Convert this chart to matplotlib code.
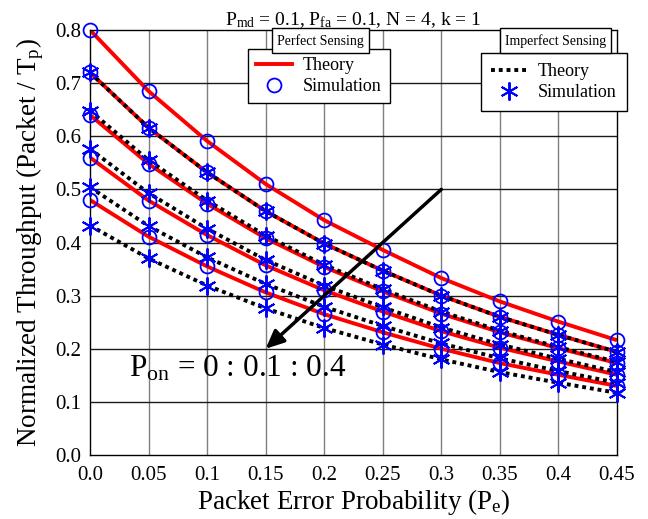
import numpy as np
import matplotlib
matplotlib.use("Agg")
import matplotlib.pyplot as plt
from matplotlib.lines import Line2D

plt.rcParams["font.family"] = ["Liberation Serif", "DejaVu Serif"]
plt.rcParams["mathtext.default"] = "regular"

# ── Data ──────────────────────────────────────────────────────
pe = [0.0, 0.05, 0.1, 0.15, 0.2, 0.25, 0.3, 0.35, 0.4, 0.45]
pe_labels = ["0.0", "0.05", "0.1", "0.15", "0.2", "0.25", "0.3", "0.35", "0.4", "0.45"]
y_ticks = [0.0, 0.1, 0.2, 0.3, 0.4, 0.5, 0.6, 0.7, 0.8]

# perfect sensing, P_on = 0, 0.1, 0.2, 0.3, 0.4
perfect_on0 = [0.800, 0.685, 0.591, 0.510, 0.442, 0.386, 0.333, 0.289, 0.251, 0.216]
perfect_on1 = [0.720, 0.616, 0.532, 0.459, 0.398, 0.347, 0.300, 0.260, 0.226, 0.194]
perfect_on2 = [0.640, 0.548, 0.473, 0.408, 0.354, 0.308, 0.266, 0.231, 0.201, 0.173]
perfect_on3 = [0.560, 0.479, 0.414, 0.357, 0.310, 0.270, 0.233, 0.202, 0.176, 0.151]
perfect_on4 = [0.480, 0.411, 0.355, 0.306, 0.265, 0.231, 0.200, 0.173, 0.151, 0.130]

# imperfect sensing, P_on = 0, 0.1, 0.2, 0.3, 0.4
imperfect_on0 = [0.720, 0.616, 0.532, 0.459, 0.398, 0.347, 0.300, 0.260, 0.226, 0.194]
imperfect_on1 = [0.648, 0.555, 0.479, 0.413, 0.358, 0.312, 0.270, 0.234, 0.203, 0.175]
imperfect_on2 = [0.576, 0.493, 0.426, 0.367, 0.319, 0.278, 0.240, 0.208, 0.181, 0.156]
imperfect_on3 = [0.504, 0.431, 0.372, 0.322, 0.279, 0.243, 0.210, 0.182, 0.158, 0.136]
imperfect_on4 = [0.432, 0.370, 0.319, 0.276, 0.239, 0.208, 0.180, 0.156, 0.136, 0.117]

perfect = [perfect_on0, perfect_on1, perfect_on2, perfect_on3, perfect_on4]
imperfect = [imperfect_on0, imperfect_on1, imperfect_on2, imperfect_on3, imperfect_on4]

RED = "#ff0000"
BLUE = "#0000ff"
DOTS = (0, (1, 1))
ASTERISK = (6, 2, 0)

fig = plt.figure(figsize=(6.48, 5.19), dpi=100)
ax = fig.add_axes([0.1389, 0.1233, 0.8133, 0.8189])

# grid: vertical grey, horizontal dark
for xv in pe[1:-1]:
    ax.axvline(xv, color="#7f7f7f", lw=1.0, zorder=0)
for yv in y_ticks[1:-1]:
    ax.axhline(yv, color="#1a1a1a", lw=1.0, zorder=0)

# theory curves
for ys in perfect:
    ax.plot(pe, ys, color=RED, lw=2.8, solid_capstyle="butt", zorder=2)
for ys in imperfect:
    ax.plot(pe, ys, color="black", lw=2.8, linestyle=DOTS, zorder=3)

# simulation markers
for ys in perfect:
    ax.plot(pe, ys, linestyle="none", marker="o", ms=10, mfc="none",
            mec=BLUE, mew=1.3, clip_on=False, zorder=4)
for ys in imperfect:
    ax.plot(pe, ys, linestyle="none", marker=ASTERISK, ms=13,
            mec=BLUE, mew=1.4, clip_on=False, zorder=4)

ax.set_xlim(0, 0.45)
ax.set_ylim(0, 0.8)
ax.set_xticks(pe)
ax.set_xticklabels(pe_labels)
ax.set_yticks(y_ticks)
ax.set_yticklabels([f"{v:.1f}" for v in y_ticks])
ax.tick_params(length=0, labelsize=15)
ax.tick_params(axis="x", pad=8)
ax.tick_params(axis="y", pad=6)
for s in ax.spines.values():
    s.set_color("black")
    s.set_linewidth(1.0)

ax.set_xlabel("Packet Error Probability (P$_e$)", fontsize=19.5, labelpad=1)
ax.set_ylabel("Normalized Throughput (Packet / T$_p$)", fontsize=19.5, labelpad=7)
ax.set_title("P$_{md}$ = 0.1, P$_{fa}$ = 0.1, N = 4, k = 1", fontsize=14, pad=3)

# legends with separate title boxes
box = dict(boxstyle="square,pad=0.38", fc="white", ec="black", lw=1.0)
h_perf = [Line2D([], [], color=RED, lw=2.8),
          Line2D([], [], linestyle="none", marker="o", ms=10, mfc="none", mec=BLUE, mew=1.3)]
leg1 = ax.legend(h_perf, ["Theory", "Simulation"], loc="upper left",
                 bbox_to_anchor=(0.30, 0.955), borderaxespad=0, fontsize=13,
                 fancybox=False, framealpha=1, edgecolor="black", handlelength=2.0,
                 borderpad=0.45, labelspacing=0.2, handletextpad=0.6)
leg1.get_frame().set_linewidth(1.0)
leg1.set_zorder(6)
ax.add_artist(leg1)

h_imp = [Line2D([], [], color="black", lw=2.8, linestyle=DOTS),
         Line2D([], [], linestyle="none", marker=ASTERISK, ms=13, mec=BLUE, mew=1.4)]
leg2 = ax.legend(h_imp, ["Theory", "Simulation"], loc="upper left",
                 bbox_to_anchor=(0.742, 0.946), borderaxespad=0, fontsize=13,
                 fancybox=False, framealpha=1, edgecolor="black", handlelength=2.0,
                 borderpad=0.55, labelspacing=0.25, handletextpad=0.6)
leg2.get_frame().set_linewidth(1.0)
leg2.set_zorder(6)

ax.text(0.438, 0.975, "Perfect Sensing", transform=ax.transAxes, fontsize=10,
        ha="center", va="center", bbox=box, zorder=7)
ax.text(0.883, 0.975, "Imperfect Sensing", transform=ax.transAxes, fontsize=10,
        ha="center", va="center", bbox=box, zorder=7)

# arrow and P_on annotation
ax.annotate("", xy=(0.15, 0.2), xytext=(0.3, 0.5),
            arrowprops=dict(arrowstyle="-|>,head_length=1.1,head_width=0.5",
                            color="black", lw=2.5, shrinkA=0, shrinkB=0), zorder=8)
ax.text(0.033, 0.162, "P$_{on}$ = 0 : 0.1 : 0.4", fontsize=22.5,
        ha="left", va="center", zorder=8)

fig.savefig("out.png", dpi=100)
